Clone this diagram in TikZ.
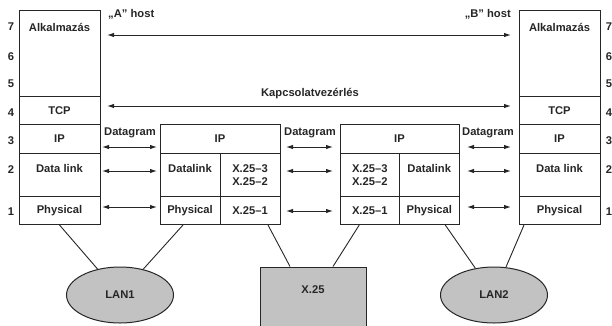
\documentclass[tikz,border=0pt]{standalone}
\usepackage{fontspec}
\setmainfont{Liberation Sans}
\usetikzlibrary{arrows.meta,shapes.geometric}
\begin{document}
\begin{tikzpicture}[x=1pt,y=-1pt,
  every node/.style={font=\fontsize{11.2}{13.5}\selectfont\bfseries, text=black!85, inner sep=0pt},
  cell/.style={draw=black!85, line width=1pt, minimum width=#1},
  cell/.default=80,
  dbl/.style={line width=1pt, draw=black!85, {Latex[length=7pt,width=4.5pt]}-{Latex[length=7pt,width=4.5pt]}},
  wire/.style={line width=0.9pt, draw=black!85},
  lan/.style={draw=black!85, line width=1pt, fill=black!24, ellipse, minimum width=107, minimum height=56},
  num/.style={}]
\useasboundingbox (0,0) rectangle (612,325);
\clip (0,0) rectangle (612,325);
% ---- host A ----
\node[cell=81, minimum height=86] (Aapp) at (59.5,53.5) {};
\node (AappT) at (59.5,27) {Alkalmazás};
\node[cell=81, minimum height=28] (Atcp) at (59.5,110.5) {TCP};
\node[cell=81, minimum height=29] (Aip) at (59.5,139) {IP};
\node[cell=81, minimum height=43, align=center] (Adl) at (59.5,175) {Data link\\\mbox{}};
\node[cell=81, minimum height=28] (Aphy) at (59.5,210.5) {Physical};
% ---- host B ----
\node[cell=81, minimum height=86] (Bapp) at (559.5,53.5) {};
\node (BappT) at (559.5,27) {Alkalmazás};
\node[cell=81, minimum height=28] (Btcp) at (559.5,110.5) {TCP};
\node[cell=81, minimum height=29] (Bip) at (559.5,139) {IP};
\node[cell=81, minimum height=43, align=center] (Bdl) at (559.5,175) {Data link\\\mbox{}};
\node[cell=81, minimum height=28] (Bphy) at (559.5,210.5) {Physical};
% ---- router 1 ----
\node[cell=120, minimum height=29] (R1ip) at (220,139) {IP};
\node[cell=60, minimum height=43, align=center] (R1dl) at (190,175) {Datalink\\\mbox{}};
\node[cell=60, minimum height=43, align=center] (R1x3) at (250,175) {X.25–3\\X.25–2};
\node[cell=60, minimum height=28] (R1phy) at (190,210.5) {Physical};
\node[cell=60, minimum height=28] (R1x1) at (250,210.5) {X.25–1};
% ---- router 2 ----
\node[cell=119, minimum height=29] (R2ip) at (399.5,139) {IP};
\node[cell=59.5, minimum height=43, align=center] (R2x3) at (369.75,175) {X.25–3\\X.25–2};
\node[cell=59.5, minimum height=43, align=center] (R2dl) at (429.25,175) {Datalink\\\mbox{}};
\node[cell=59.5, minimum height=28] (R2x1) at (369.75,210.5) {X.25–1};
\node[cell=59.5, minimum height=28] (R2phy) at (429.25,210.5) {Physical};
% ---- layer numbers ----
\foreach \n/\yy in {7/27,6/57,5/84,4/113,3/141,2/170,1/212}{
  \node[num] (nl\n) at (11,\yy) {\n};
  \node[num] (nr\n) at (609,\yy) {\n};
}
% ---- labels ----
\node[anchor=west] (hostA) at (108,14) {„A” host};
\node[anchor=east] (hostB) at (511,14) {„B” host};
\node (kap) at (310,94) {Kapcsolatvezérlés};
\node (dg1) at (130,133) {Datagram};
\node (dg2) at (310,133) {Datagram};
\node (dg3) at (488,133) {Datagram};
% ---- end-to-end arrows ----
\coordinate (a7l) at (107,35); \coordinate (a7r) at (511,35);
\coordinate (a4l) at (107,106); \coordinate (a4r) at (511,106);
\draw[dbl] (a7l) -- (a7r);
\draw[dbl] (a4l) -- (a4r);
% ---- hop arrows ----
\coordinate (d1l) at (102,147); \coordinate (d1r) at (157,147);
\coordinate (d2l) at (286,147); \coordinate (d2r) at (333,147);
\coordinate (d3l) at (467,147); \coordinate (d3r) at (511,147);
\coordinate (l1l) at (102,171); \coordinate (l1r) at (157,171);
\coordinate (l2l) at (286,171); \coordinate (l2r) at (333,171);
\coordinate (l3l) at (467,171); \coordinate (l3r) at (511,171);
\coordinate (p1l) at (102,207); \coordinate (p1r) at (157,207);
\coordinate (p2l) at (286,211); \coordinate (p2r) at (333,211);
\coordinate (p3l) at (467,207); \coordinate (p3r) at (511,207);
\foreach \c in {d1,d2,d3,l1,l2,l3,p1,p2,p3}{\draw[dbl] (\c l) -- (\c r);}
% ---- networks ----
\node[lan] (LAN1) at (120,295) {LAN1};
\node[lan] (LAN2) at (494,295) {LAN2};
\node[draw=black!85, line width=1pt, fill=black!24, minimum width=106, minimum height=80] (X25) at (313,307) {};
\node (X25T) at (313,290) {X.25};
% ---- wires ----
\draw[wire] (Aphy.south) -- (LAN1);
\draw[wire] ([xshift=-7pt]R1phy.south) -- (LAN1);
\draw[wire] ([xshift=18pt]R1x1.south) -- ([xshift=-23pt]X25.north);
\draw[wire] ([xshift=-10.5pt]R2x1.south) -- ([xshift=20pt]X25.north);
\draw[wire] ([xshift=16pt]R2phy.south) -- (LAN2);
\draw[wire] ([xshift=-35.5pt]Bphy.south) -- (LAN2);
\end{tikzpicture}
\end{document}
